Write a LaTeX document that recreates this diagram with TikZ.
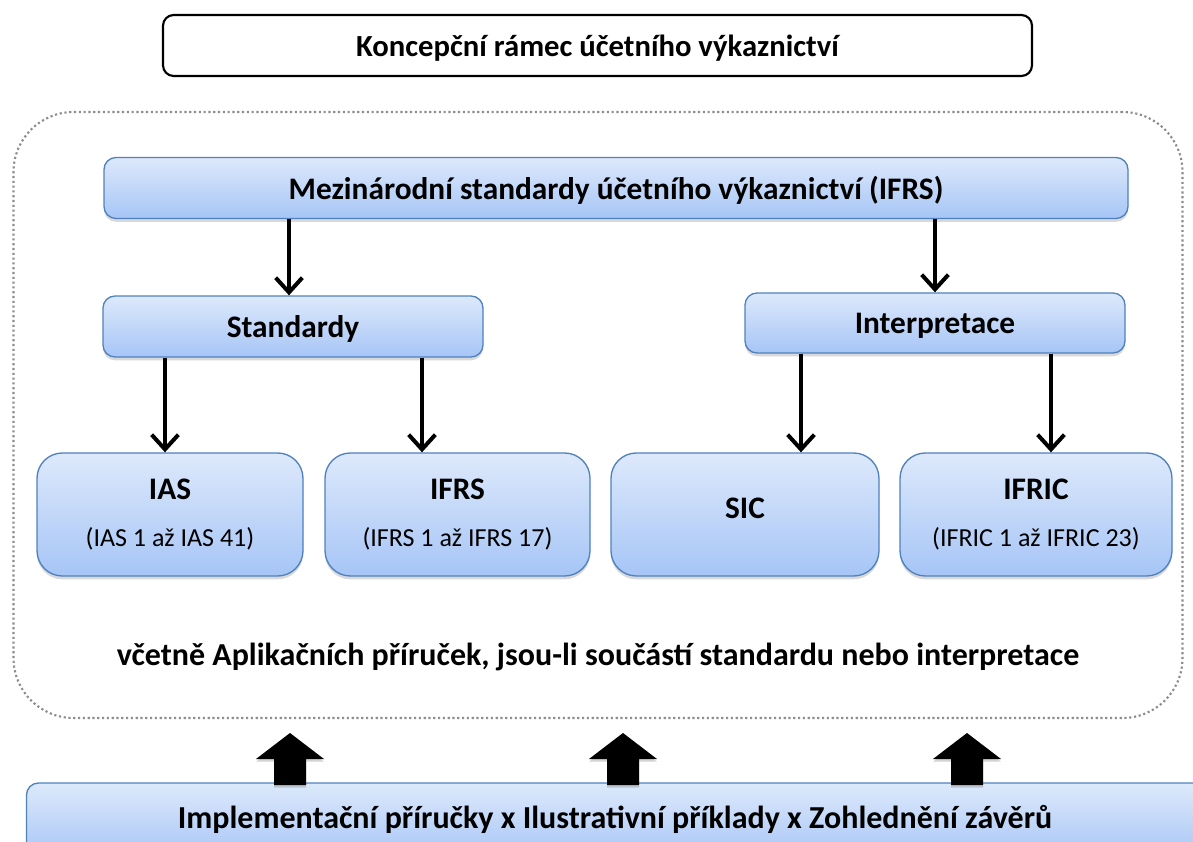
\documentclass[tikz,border=0pt]{standalone}
\usepackage{fontspec}
\setmainfont{Carlito}
\usetikzlibrary{arrows.meta,shadows,calc}
\definecolor{boxtop}{RGB}{221,233,251}
\definecolor{boxbot}{RGB}{166,197,246}
\definecolor{boxline}{RGB}{79,129,189}
\definecolor{dotgray}{RGB}{140,140,140}
\tikzset{
  bluebox/.style={draw=boxline, line width=1pt, top color=boxtop, bottom color=boxbot,
    rounded corners=9pt, drop shadow={shadow xshift=0pt, shadow yshift=-2.5pt, opacity=0.3},
    font=\bfseries\fontsize{23.5}{29}\selectfont, inner sep=0pt},
  leafbox/.style={bluebox, rounded corners=19pt},
  conn/.style={line width=3pt, -{Straight Barb[length=11pt,width=20pt,line width=3pt]}},
  blockarrow/.style={fill=black, drop shadow={shadow xshift=0pt, shadow yshift=-2pt, opacity=0.35}}
}
\newcommand{\subtxt}[1]{{\normalfont\fontsize{19.5}{24}\selectfont #1}}
\begin{document}
\begin{tikzpicture}[x=0.75pt,y=-0.75pt]
\useasboundingbox (0,0) rectangle (1193,842);
\clip (0,0) rectangle (1193,842);
% title
\node[draw=black, line width=1.6pt, rounded corners=8pt, minimum width=869*0.75pt, minimum height=61*0.75pt,
  font=\bfseries\fontsize{23}{28}\selectfont, inner sep=0pt, text depth=0pt] (title) at (597.5,45.5) {Koncepční rámec účetního výkaznictví};
% container
\node[draw=dotgray, line width=1.6pt, dotted, rounded corners=45pt, minimum width=1169*0.75pt, minimum height=606*0.75pt, inner sep=0pt] (cont) at (598,415) {};
% IFRS top
\node[bluebox, minimum width=1024*0.75pt, minimum height=61*0.75pt, text depth=0pt] (ifrs) at (616,188) {Mezinárodní standardy účetního výkaznictví (IFRS)};
\node[bluebox, minimum width=380*0.75pt, minimum height=61*0.75pt, text depth=0pt] (std) at (293,326.5) {Standardy};
\node[bluebox, minimum width=380*0.75pt, minimum height=60*0.75pt, text depth=0pt] (interp) at (935,323) {Interpretace};
% leaves
\node[leafbox, minimum width=266*0.75pt, minimum height=123*0.75pt, align=center] (ias) at (170,514.5) {IAS\\[6pt]\subtxt{(IAS 1 až IAS 41)}};
\node[leafbox, minimum width=265*0.75pt, minimum height=123*0.75pt, align=center] (ifrsb) at (457.5,514.5) {IFRS\\[6pt]\subtxt{(IFRS 1 až IFRS 17)}};
\node[leafbox, minimum width=268*0.75pt, minimum height=123*0.75pt, text depth=9pt] (sic) at (745,514.5) {SIC};
\node[leafbox, minimum width=272*0.75pt, minimum height=123*0.75pt, align=center] (ifric) at (1036,514.5) {IFRIC\\[6pt]\subtxt{(IFRIC 1 až IFRIC 23)}};
% note
\node[font=\bfseries\fontsize{24}{29}\selectfont, inner sep=0pt] (note) at (598,657) {včetně Aplikačních příruček, jsou-li součástí standardu nebo interpretace};
% bottom
\node[bluebox, minimum width=1183*0.75pt, minimum height=77*0.75pt] (bot) at (618,821.5) {};
\node[font=\bfseries\fontsize{24}{29}\selectfont, inner sep=0pt, anchor=base] (bottext) at (615,828) {Implementační příručky x Ilustrativní příklady x Zohlednění závěrů};
% connectors
\draw[conn] (ifrs.south -| 289,0) -- (std.north -| 289,0);
\draw[conn] (ifrs.south -| interp.north) -- (interp.north);
\draw[conn] (std.south -| 165,0) -- (ias.north -| 165,0);
\draw[conn] (std.south -| 422,0) -- (ifrsb.north -| 422,0);
\draw[conn] (interp.south -| 801,0) -- (sic.north -| 801,0);
\draw[conn] (interp.south -| 1051,0) -- (ifric.north -| 1051,0);
% block arrows
\foreach \x in {290,623,967}{
  \fill[blockarrow] (\x-16,785) -- (\x-16,759) -- (\x-34,759) -- (\x,733) -- (\x+34,759) -- (\x+16,759) -- (\x+16,785) -- cycle;
}
\end{tikzpicture}
\end{document}
